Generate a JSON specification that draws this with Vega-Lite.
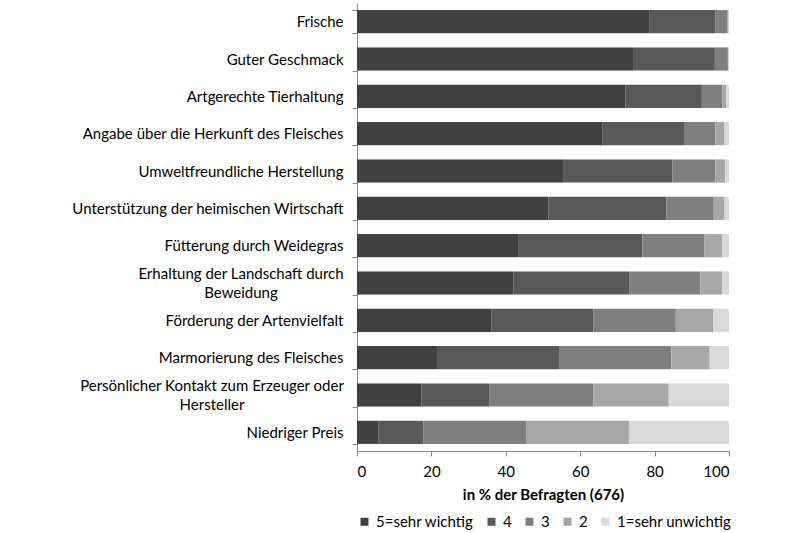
{
  "$schema": "https://vega.github.io/schema/vega-lite/v6.json",
  "autosize": "none",
  "width": 372,
  "height": 448,
  "padding": {"left": 357, "top": 3, "right": 71, "bottom": 82},
  "background": "white",
  "config": {
    "view": {"stroke": null},
    "font": "Lato",
    "axis": {"labelFont": "Lato", "titleFont": "Lato", "labelColor": "#000000", "titleColor": "#000000", "domainColor": "#868686", "tickColor": "#868686"},
    "legend": {"labelFont": "Lato", "labelColor": "#000000"}
  },
  "data": {
    "values": [
      {"item": "Frische", "level": "5=sehr wichtig", "pct": 78.7},
      {"item": "Frische", "level": "4", "pct": 17.7},
      {"item": "Frische", "level": "3", "pct": 3.2},
      {"item": "Frische", "level": "2", "pct": 0.3},
      {"item": "Frische", "level": "1=sehr unwichtig", "pct": 0.1},
      {"item": "Guter Geschmack", "level": "5=sehr wichtig", "pct": 74.2},
      {"item": "Guter Geschmack", "level": "4", "pct": 22.0},
      {"item": "Guter Geschmack", "level": "3", "pct": 3.5},
      {"item": "Guter Geschmack", "level": "2", "pct": 0.2},
      {"item": "Guter Geschmack", "level": "1=sehr unwichtig", "pct": 0.1},
      {"item": "Artgerechte Tierhaltung", "level": "5=sehr wichtig", "pct": 72.2},
      {"item": "Artgerechte Tierhaltung", "level": "4", "pct": 20.5},
      {"item": "Artgerechte Tierhaltung", "level": "3", "pct": 5.5},
      {"item": "Artgerechte Tierhaltung", "level": "2", "pct": 1.0},
      {"item": "Artgerechte Tierhaltung", "level": "1=sehr unwichtig", "pct": 0.8},
      {"item": "Angabe über die Herkunft des Fleisches", "level": "5=sehr wichtig", "pct": 65.9},
      {"item": "Angabe über die Herkunft des Fleisches", "level": "4", "pct": 22.0},
      {"item": "Angabe über die Herkunft des Fleisches", "level": "3", "pct": 8.4},
      {"item": "Angabe über die Herkunft des Fleisches", "level": "2", "pct": 2.5},
      {"item": "Angabe über die Herkunft des Fleisches", "level": "1=sehr unwichtig", "pct": 1.2},
      {"item": "Umweltfreundliche Herstellung", "level": "5=sehr wichtig", "pct": 55.6},
      {"item": "Umweltfreundliche Herstellung", "level": "4", "pct": 29.2},
      {"item": "Umweltfreundliche Herstellung", "level": "3", "pct": 11.5},
      {"item": "Umweltfreundliche Herstellung", "level": "2", "pct": 2.7},
      {"item": "Umweltfreundliche Herstellung", "level": "1=sehr unwichtig", "pct": 1.0},
      {"item": "Unterstützung der heimischen Wirtschaft", "level": "5=sehr wichtig", "pct": 51.5},
      {"item": "Unterstützung der heimischen Wirtschaft", "level": "4", "pct": 31.7},
      {"item": "Unterstützung der heimischen Wirtschaft", "level": "3", "pct": 12.7},
      {"item": "Unterstützung der heimischen Wirtschaft", "level": "2", "pct": 2.9},
      {"item": "Unterstützung der heimischen Wirtschaft", "level": "1=sehr unwichtig", "pct": 1.2},
      {"item": "Fütterung durch Weidegras", "level": "5=sehr wichtig", "pct": 43.5},
      {"item": "Fütterung durch Weidegras", "level": "4", "pct": 33.2},
      {"item": "Fütterung durch Weidegras", "level": "3", "pct": 16.6},
      {"item": "Fütterung durch Weidegras", "level": "2", "pct": 4.8},
      {"item": "Fütterung durch Weidegras", "level": "1=sehr unwichtig", "pct": 1.9},
      {"item": "Erhaltung der Landschaft durch Beweidung", "level": "5=sehr wichtig", "pct": 42.1},
      {"item": "Erhaltung der Landschaft durch Beweidung", "level": "4", "pct": 31.2},
      {"item": "Erhaltung der Landschaft durch Beweidung", "level": "3", "pct": 19.0},
      {"item": "Erhaltung der Landschaft durch Beweidung", "level": "2", "pct": 5.8},
      {"item": "Erhaltung der Landschaft durch Beweidung", "level": "1=sehr unwichtig", "pct": 1.9},
      {"item": "Förderung der Artenvielfalt", "level": "5=sehr wichtig", "pct": 36.2},
      {"item": "Förderung der Artenvielfalt", "level": "4", "pct": 27.3},
      {"item": "Förderung der Artenvielfalt", "level": "3", "pct": 22.2},
      {"item": "Förderung der Artenvielfalt", "level": "2", "pct": 10.0},
      {"item": "Förderung der Artenvielfalt", "level": "1=sehr unwichtig", "pct": 4.3},
      {"item": "Marmorierung des Fleisches", "level": "5=sehr wichtig", "pct": 21.5},
      {"item": "Marmorierung des Fleisches", "level": "4", "pct": 33.0},
      {"item": "Marmorierung des Fleisches", "level": "3", "pct": 30.0},
      {"item": "Marmorierung des Fleisches", "level": "2", "pct": 10.3},
      {"item": "Marmorierung des Fleisches", "level": "1=sehr unwichtig", "pct": 5.2},
      {"item": "Persönlicher Kontakt zum Erzeuger oder Hersteller", "level": "5=sehr wichtig", "pct": 17.3},
      {"item": "Persönlicher Kontakt zum Erzeuger oder Hersteller", "level": "4", "pct": 18.2},
      {"item": "Persönlicher Kontakt zum Erzeuger oder Hersteller", "level": "3", "pct": 28.0},
      {"item": "Persönlicher Kontakt zum Erzeuger oder Hersteller", "level": "2", "pct": 20.3},
      {"item": "Persönlicher Kontakt zum Erzeuger oder Hersteller", "level": "1=sehr unwichtig", "pct": 16.2},
      {"item": "Niedriger Preis", "level": "5=sehr wichtig", "pct": 5.7},
      {"item": "Niedriger Preis", "level": "4", "pct": 12.1},
      {"item": "Niedriger Preis", "level": "3", "pct": 27.8},
      {"item": "Niedriger Preis", "level": "2", "pct": 27.5},
      {"item": "Niedriger Preis", "level": "1=sehr unwichtig", "pct": 26.9}
    ]
  },
  "mark": {"type": "bar"},
  "encoding": {
    "y": {
      "field": "item",
      "type": "nominal",
      "sort": null,
      "scale": {"paddingInner": 0.38, "paddingOuter": 0.19},
      "axis": {
        "title": null,
        "tickBand": "extent",
        "tickSize": 5,
        "labelFontSize": 15,
        "labelLineHeight": 19,
        "labelLimit": 400,
        "labelAlign": {
          "condition": {"test": "datum.value == 'Erhaltung der Landschaft durch Beweidung' || datum.value == 'Persönlicher Kontakt zum Erzeuger oder Hersteller'", "value": "center"},
          "value": "right"
        },
        "labelPadding": {
          "condition": [
            {"test": "datum.value == 'Erhaltung der Landschaft durch Beweidung'", "value": 111.5},
            {"test": "datum.value == 'Persönlicher Kontakt zum Erzeuger oder Hersteller'", "value": 140.5}
          ],
          "value": 9
        },
        "labelOffset": {
          "condition": {"test": "datum.value == 'Erhaltung der Landschaft durch Beweidung' || datum.value == 'Persönlicher Kontakt zum Erzeuger oder Hersteller'", "value": -9.5},
          "value": 0
        },
        "labelExpr": "datum.value == 'Erhaltung der Landschaft durch Beweidung' ? ['Erhaltung der Landschaft durch', 'Beweidung'] : datum.value == 'Persönlicher Kontakt zum Erzeuger oder Hersteller' ? ['Persönlicher Kontakt zum Erzeuger oder', 'Hersteller'] : datum.value"
      }
    },
    "x": {
      "field": "pct",
      "type": "quantitative",
      "stack": "zero",
      "scale": {"domain": [0, 100]},
      "axis": {
        "title": "in % der Befragten (676)",
        "titleFontSize": 15,
        "titleFontWeight": "bold",
        "titlePadding": 8,
        "values": [0, 20, 40, 60, 80, 100],
        "grid": false,
        "tickSize": 5,
        "labelFontSize": 15,
        "labelPadding": 8
      }
    },
    "color": {
      "field": "level",
      "type": "nominal",
      "scale": {
        "domain": ["5=sehr wichtig", "4", "3", "2", "1=sehr unwichtig"],
        "range": ["#404040", "#595959", "#7f7f7f", "#a6a6a6", "#d9d9d9"]
      },
      "legend": {
        "title": null,
        "orient": "bottom",
        "direction": "horizontal",
        "symbolType": "square",
        "symbolSize": 64,
        "symbolStrokeWidth": 0,
        "labelFontSize": 15,
        "columnPadding": 10,
        "offset": 12
      }
    },
    "order": {"field": "level", "sort": "descending"}
  }
}
